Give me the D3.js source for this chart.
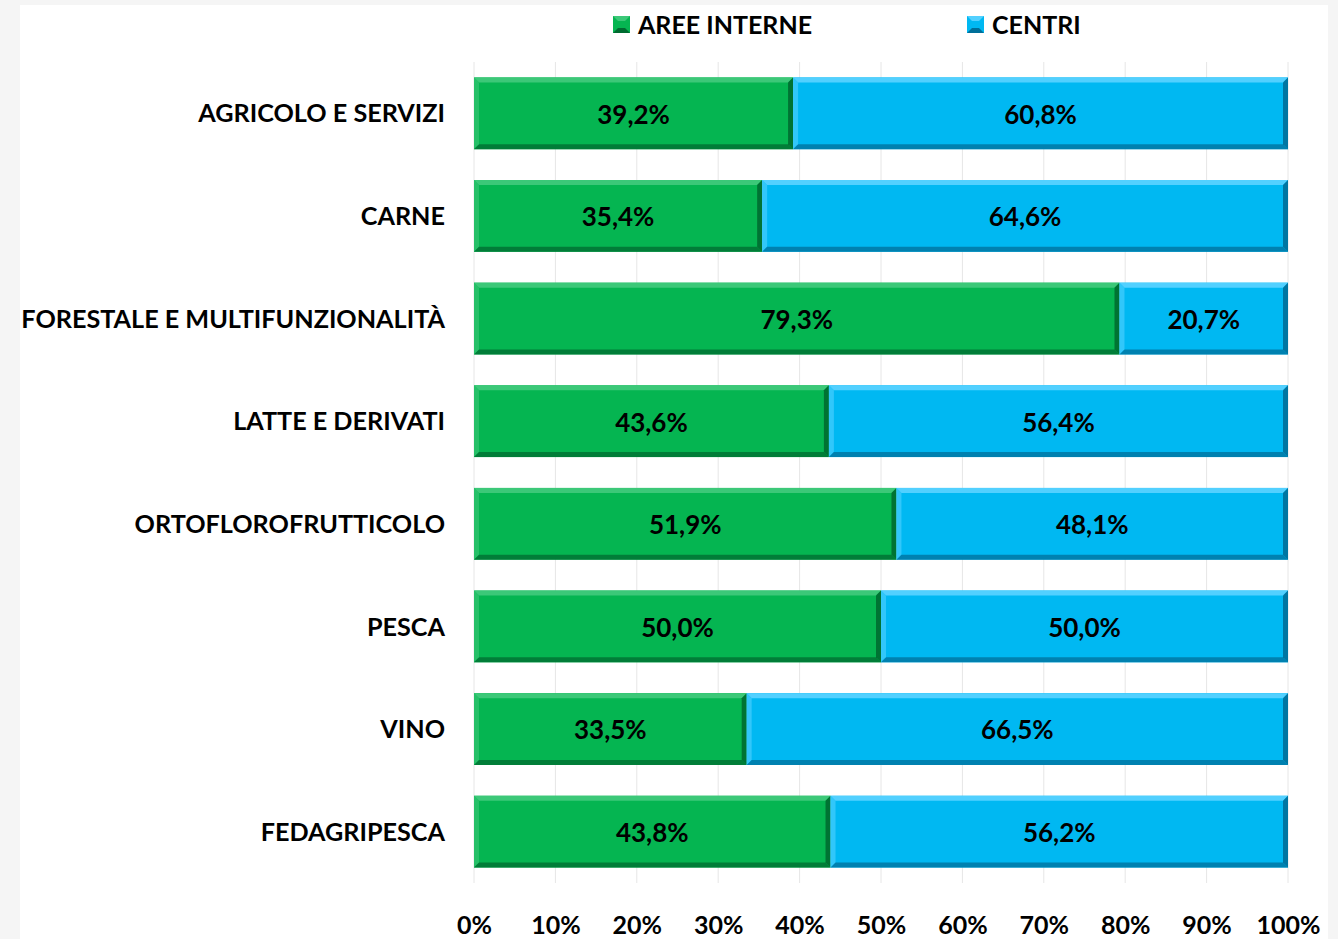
<!DOCTYPE html>
<html>
<head>
<meta charset="utf-8">
<script src="https://cdn.jsdelivr.net/npm/d3@7"></script>
<style>
    body { margin: 0; background: #f5f5f5; }
    svg { display: block; }
    text { font-family: Lato, 'Open Sans', sans-serif; font-weight: 700; fill: #000; }
</style>
</head>
<body>
<div class="chart"></div>
<script>
// Data
const categories = [
    'AGRICOLO E SERVIZI',
    'CARNE',
    'FORESTALE E MULTIFUNZIONALITÀ',
    'LATTE E DERIVATI',
    'ORTOFLOROFRUTTICOLO',
    'PESCA',
    'VINO',
    'FEDAGRIPESCA'
];
const areeInterne = [39.2, 35.4, 79.3, 43.6, 51.9, 50.0, 33.5, 43.8];
const centri = [60.8, 64.6, 20.7, 56.4, 48.1, 50.0, 66.5, 56.2];
const seriesNames = ['AREE INTERNE', 'CENTRI'];
const tickValues = [0, 10, 20, 30, 40, 50, 60, 70, 80, 90, 100];

const colors = ['#05b551', '#00b8f2'];
const lightColors = ['#3cc878', '#52d0ff'];
const darkColors = ['#006b30', '#006f99'];

const svgWidth = 1338;
const svgHeight = 939;
const margin = { top: 62, right: 50, bottom: 56, left: 474 };
const width = svgWidth - margin.left - margin.right;
const height = svgHeight - margin.top - margin.bottom;

const rows = categories.map((c, i) => ({
    name: c,
    values: [
        { key: 0, x0: 0, x1: areeInterne[i], v: areeInterne[i] },
        { key: 1, x0: areeInterne[i], x1: areeInterne[i] + centri[i], v: centri[i] }
    ]
}));

const xScale = d3.scaleLinear().domain([0, 100]).range([0, width]);
const yScale = d3.scaleBand().domain(categories).range([0, height]).paddingInner(0.3).paddingOuter(0.15);

const svg0 = d3.select('.chart')
    .append('svg')
    .attr('width', svgWidth)
    .attr('height', svgHeight);

// white panel
svg0.append('rect')
    .attr('x', 20).attr('y', 5)
    .attr('width', 1308).attr('height', svgHeight - 5)
    .attr('fill', '#fff');

const svg = svg0.append('g')
    .attr('transform', 'translate(' + margin.left + ',' + margin.top + ')');

// gridlines
svg.selectAll('.grid')
    .data(tickValues)
    .enter()
    .append('line')
    .attr('class', 'grid')
    .attr('x1', d => xScale(d))
    .attr('x2', d => xScale(d))
    .attr('y1', 0)
    .attr('y2', height)
    .attr('stroke', '#e6e6e6')
    .attr('stroke-width', 1);

// bars with bevel
const b = 5;
const rowG = svg.selectAll('.row')
    .data(rows)
    .enter()
    .append('g')
    .attr('class', 'row')
    .attr('transform', d => 'translate(0,' + yScale(d.name) + ')');

const seg = rowG.selectAll('.seg')
    .data(d => d.values)
    .enter()
    .append('g')
    .attr('class', 'seg');

const bh = yScale.bandwidth();

seg.append('rect')
    .attr('x', d => xScale(d.x0))
    .attr('y', 0)
    .attr('width', d => xScale(d.x1) - xScale(d.x0))
    .attr('height', bh)
    .attr('fill', d => colors[d.key]);

// top bevel
seg.append('polygon')
    .attr('points', d => {
        const x0 = xScale(d.x0), x1 = xScale(d.x1);
        return [[x0, 0], [x1, 0], [x1 - b, b], [x0 + b, b]].join(' ');
    })
    .attr('fill', d => lightColors[d.key]);

// left bevel
seg.append('polygon')
    .attr('points', d => {
        const x0 = xScale(d.x0);
        return [[x0, 0], [x0 + b, b], [x0 + b, bh - b], [x0, bh]].join(' ');
    })
    .attr('fill', d => lightColors[d.key])
    .attr('opacity', 0.6);

// bottom bevel
seg.append('polygon')
    .attr('points', d => {
        const x0 = xScale(d.x0), x1 = xScale(d.x1);
        return [[x0, bh], [x1, bh], [x1 - b, bh - b], [x0 + b, bh - b]].join(' ');
    })
    .attr('fill', d => darkColors[d.key])
    .attr('opacity', 0.75);

// right bevel
seg.append('polygon')
    .attr('points', d => {
        const x1 = xScale(d.x1);
        return [[x1, 0], [x1, bh], [x1 - b, bh - b], [x1 - b, b]].join(' ');
    })
    .attr('fill', d => darkColors[d.key])
    .attr('opacity', 0.9);

// value labels
seg.append('text')
    .attr('x', d => (xScale(d.x0) + xScale(d.x1)) / 2)
    .attr('y', bh / 2)
    .attr('dy', '0.4em')
    .attr('text-anchor', 'middle')
    .style('font-size', '26px')
    .text(d => d3.format('.1f')(d.v).replace('.', ',') + '%');

// category axis
svg.selectAll('.cat')
    .data(categories)
    .enter()
    .append('text')
    .attr('class', 'cat')
    .attr('x', -29)
    .attr('y', d => yScale(d) + bh / 2)
    .attr('dy', '0.36em')
    .attr('text-anchor', 'end')
    .style('font-size', '25.2px')
    .text(d => d);

// x axis
const xAxis = d3.axisBottom(xScale)
    .tickValues(tickValues)
    .tickFormat(d => d + '%')
    .tickSize(0)
    .tickPadding(33);

const xAxisDraw = svg.append('g')
    .attr('class', 'x axis')
    .attr('transform', 'translate(0,' + height + ')');
xAxis(xAxisDraw);
xAxisDraw.select('.domain').remove();
xAxisDraw.selectAll('text')
    .style('font-size', '25px')
    .style('font-family', null)
    .attr('fill', '#000');

// legend
const legendX = [613, 967];
const legend = svg0.selectAll('.legend')
    .data(seriesNames)
    .enter()
    .append('g')
    .attr('class', 'legend')
    .attr('transform', (d, i) => 'translate(' + legendX[i] + ',16)');

legend.append('rect')
    .attr('width', 17).attr('height', 17)
    .attr('fill', (d, i) => colors[i]);
legend.append('polygon')
    .attr('points', '0,0 17,0 12,5 5,5')
    .attr('fill', (d, i) => lightColors[i]);
legend.append('polygon')
    .attr('points', '0,17 17,17 12,12 5,12')
    .attr('fill', (d, i) => darkColors[i]);
legend.append('text')
    .attr('x', 25)
    .attr('y', 8.5)
    .attr('dy', '0.36em')
    .style('font-size', '25px')
    .text(d => d);
</script>
</body>
</html>
